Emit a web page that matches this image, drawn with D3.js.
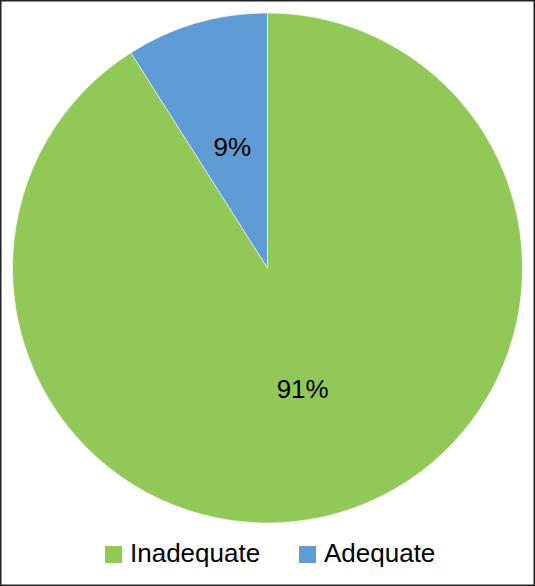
<!DOCTYPE html>
<html>
<head>
<meta charset="utf-8">
<script src="https://cdn.jsdelivr.net/npm/d3@7.9.0/dist/d3.min.js"></script>
<style>
  html, body { margin: 0; padding: 0; background: #fff; }
  svg { display: block; }
</style>
</head>
<body>
<div id="chart"></div>
<script>
const categories = ['Inadequate', 'Adequate'];
const values = [91, 9];
const colors = ['#92C857', '#5F9BD4'];

const width = 535, height = 586;
const cx = 267.5, cy = 268, radius = 255;

const svg = d3.select('#chart').append('svg')
  .attr('width', width)
  .attr('height', height);

// outer frame
svg.append('rect')
  .attr('x', 0.75).attr('y', 0.75)
  .attr('width', width - 1.5).attr('height', height - 1.5)
  .attr('fill', 'none')
  .attr('stroke', '#222')
  .attr('stroke-width', 1.5);

const data = categories.map((c, i) => ({ name: c, value: values[i], color: colors[i] }));

const pie = d3.pie().value((d) => d.value).sort(null);
const arc = d3.arc().innerRadius(0).outerRadius(radius);
const labelArc = d3.arc().innerRadius(126).outerRadius(126);

const g = svg.append('g').attr('transform', `translate(${cx},${cy})`);
const arcs = pie(data);

g.selectAll('path')
  .data(arcs)
  .join('path')
  .attr('d', arc)
  .attr('fill', (d) => d.data.color)
  .attr('stroke', '#fff')
  .attr('stroke-width', 0.6);

g.selectAll('text')
  .data(arcs)
  .join('text')
  .attr('transform', (d) => `translate(${labelArc.centroid(d)})`)
  .attr('text-anchor', 'middle')
  .attr('dy', '0.36em')
  .style('font-family', 'Liberation Sans, Arial, sans-serif')
  .style('font-size', '26px')
  .attr('fill', '#000')
  .text((d) => `${d.data.value}%`);

// legend
const legendX = [105, 299];
const legend = svg.append('g').attr('class', 'legend');
data.forEach((d, i) => {
  legend.append('rect')
    .attr('x', legendX[i]).attr('y', 546)
    .attr('width', 17).attr('height', 17)
    .attr('fill', d.color);
  legend.append('text')
    .attr('x', legendX[i] + 25).attr('y', 562)
    .style('font-family', 'Liberation Sans, Arial, sans-serif')
    .style('font-size', '26px')
    .attr('fill', '#000')
    .text(d.name);
});
</script>
</body>
</html>
